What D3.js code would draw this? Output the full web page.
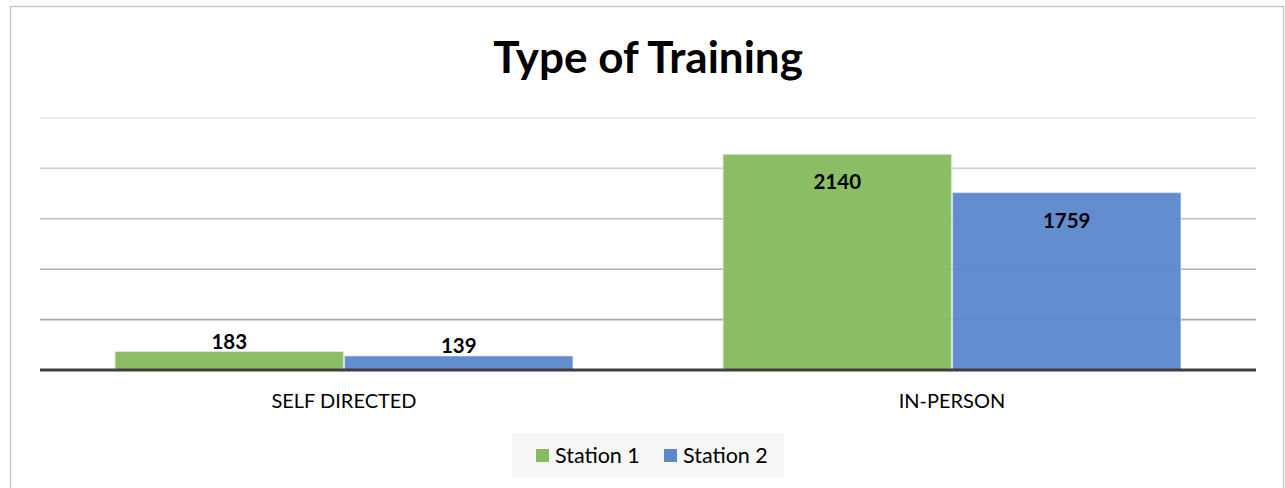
<!DOCTYPE html>
<html>
<head>
<meta charset="utf-8">
<script src="https://cdn.jsdelivr.net/npm/d3@7"></script>
<style>
  body { margin: 0; background: #fff; }
  text { font-family: Lato, "Open Sans", sans-serif; }
</style>
</head>
<body>
<div id="chart"></div>
<script>
const categories = ["SELF DIRECTED", "IN-PERSON"]
const seriesNames = ["Station 1", "Station 2"]
const station1 = [183, 2140]
const station2 = [139, 1759]
const yTicks = [0, 500, 1000, 1500, 2000, 2500]

const width = 1285
const height = 488
const colors = ["#86bb5e", "#5b87cb"]
// grid lines get a bit darker lower down in the original
const gridColors = ["#3f3f3f", "#a6a6a6", "#b0b0b0", "#bcbcbc", "#d4d4d4", "#e4e4e4"]

const margin = { left: 40, right: 29, top: 118, bottom: 118 }

const svg = d3.select("#chart").append("svg")
  .attr("width", width)
  .attr("height", height)

// chart border
svg.append("rect")
  .attr("x", 10.5).attr("y", 6.5)
  .attr("width", 1273).attr("height", 520)
  .attr("fill", "#fff")
  .attr("stroke", "#c9c9c9")
  .attr("stroke-width", 1.5)

svg.append("text")
  .attr("x", 648).attr("y", 73)
  .attr("text-anchor", "middle")
  .attr("font-size", 44)
  .attr("font-weight", 700)
  .attr("fill", "#000")
  .text("Type of Training")

const x0 = d3.scaleBand()
  .domain(categories)
  .range([margin.left, width - margin.right])
  .paddingInner(0.247)
  .paddingOuter(0.1235)

const x1 = d3.scaleBand()
  .domain(seriesNames)
  .range([0, x0.bandwidth()])
  .paddingInner(0.005)

const y = d3.scaleLinear()
  .domain([0, 2500])
  .range([370, 118])

// gridlines
svg.append("g")
  .selectAll("line")
  .data(yTicks.slice(1))
  .enter().append("line")
  .attr("x1", margin.left).attr("x2", width - margin.right)
  .attr("y1", function(d) { return y(d) }).attr("y2", function(d) { return y(d) })
  .attr("stroke", function(d, i) { return gridColors[i + 1] })
  .attr("stroke-width", 1.6)

const rows = categories.map(function(c, i) {
  return [
    { cat: c, series: seriesNames[0], value: station1[i], color: colors[0] },
    { cat: c, series: seriesNames[1], value: station2[i], color: colors[1] }
  ]
})

const group = svg.append("g")
  .selectAll("g")
  .data(rows)
  .enter().append("g")
  .attr("transform", function(d, i) { return "translate(" + x0(categories[i]) + ",0)" })

group.selectAll("rect")
  .data(function(d) { return d })
  .enter().append("rect")
  .attr("x", function(d) { return x1(d.series) })
  .attr("y", function(d) { return y(d.value) })
  .attr("width", x1.bandwidth())
  .attr("height", function(d) { return y(0) - y(d.value) })
  .attr("fill", function(d) { return d.color })
  .attr("fill-opacity", 0.95)
  .attr("stroke", "#dfe8f2")
  .attr("stroke-opacity", 0.6)
  .attr("stroke-width", 1)

// value labels: inside end for tall bars, outside for short ones
group.selectAll("text")
  .data(function(d) { return d })
  .enter().append("text")
  .attr("x", function(d) { return x1(d.series) + x1.bandwidth() / 2 })
  .attr("y", function(d) {
    return (y(0) - y(d.value)) > 40 ? y(d.value) + 35 : y(d.value) - 3
  })
  .attr("text-anchor", "middle")
  .attr("font-size", 20.5)
  .attr("font-weight", 700)
  .attr("fill", "#000")
  .text(function(d) { return d.value })

// baseline
svg.append("line")
  .attr("x1", margin.left).attr("x2", width - margin.right)
  .attr("y1", y(0)).attr("y2", y(0))
  .attr("stroke", gridColors[0])
  .attr("stroke-width", 3)

// category axis
const xAxis = svg.append("g")
  .attr("transform", "translate(0," + y(0) + ")")
  .call(d3.axisBottom(x0).tickSize(0).tickPadding(24))
xAxis.select(".domain").remove()
xAxis.selectAll("text")
  .attr("font-size", 20)
  .attr("fill", "#000")
  .style("font-family", "Lato, 'Open Sans', sans-serif")

// legend
const legend = svg.append("g").attr("transform", "translate(512,433)")
legend.append("rect")
  .attr("width", 272).attr("height", 45)
  .attr("fill", "#f7f7f7")

const items = legend.selectAll("g.item")
  .data(seriesNames)
  .enter().append("g")
  .attr("class", "item")
  .attr("transform", function(d, i) { return "translate(" + (24 + i * 128) + ",0)" })

items.append("rect")
  .attr("y", 16).attr("width", 13).attr("height", 13)
  .attr("fill", function(d, i) { return colors[i] })

items.append("text")
  .attr("x", 19).attr("y", 30)
  .attr("font-size", 21.5)
  .attr("fill", "#000")
  .text(function(d) { return d })
</script>
</body>
</html>
